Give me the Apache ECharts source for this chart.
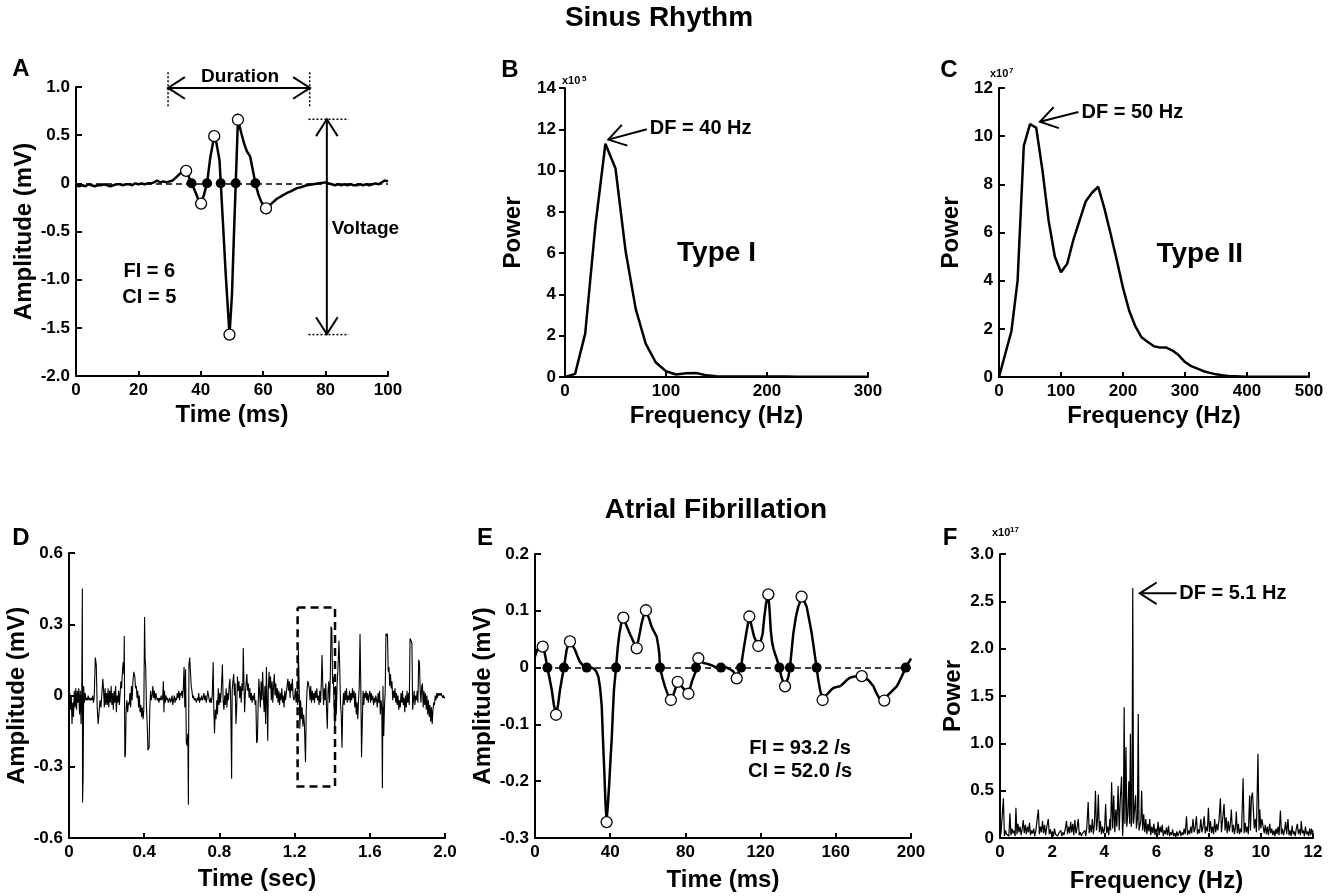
<!DOCTYPE html>
<html>
<head>
<meta charset="utf-8">
<title>Sinus Rhythm / Atrial Fibrillation</title>
<script src="https://cdn.jsdelivr.net/npm/echarts@6/dist/echarts.min.js"></script>
<style>
    html, body { margin: 0; padding: 0; background: #fff; }
    #chart { width: 1338px; height: 896px; }
</style>
</head>
<body>
<div id="chart"></div>
<script>
// ---------- data ----------

// A: sinus rhythm electrogram [ms, mV]
const sinusEgm = [
    [0,-0.02],[1,-0.03],[2,-0.02],[3,-0.03],[4,-0.01],[5,-0.02],[6,-0.03],[7,-0.02],[8,-0.02],[9,-0.01],
    [10,-0.02],[11,-0.03],[12,-0.02],[13,-0.01],[14,-0.01],[15,-0.02],[16,-0.01],[17,-0.01],[18,-0.02],[19,0.00],
    [20,-0.01],[21,0.00],[22,-0.01],[23,0.00],[24,0.00],[25,0.01],[26,0.03],[27,0.01],[28,0.02],[29,0.01],
    [30,0.02],[31,0.03],[32,0.06],[33,0.09],[34,0.12],[35.3,0.13],[36,0.08],[37,0.00],[38,-0.07],[39,-0.15],
    [40.1,-0.21],[41,-0.12],[42,0.00],[43,0.26],[44.3,0.49],[45,0.42],[46,0.24],[46.4,0.00],[47,-0.35],[48,-0.95],
    [49.2,-1.57],[50,-1.15],[50.6,-0.55],[51.2,0.00],[51.9,0.66],[53,0.52],[54,0.40],[54.8,0.33],[55.8,0.28],[56.6,0.15],
    [57.5,0.00],[58.5,-0.12],[59.5,-0.20],[60.9,-0.26],[62,-0.23],[63,-0.20],[64.4,-0.16],[66,-0.13],[67.6,-0.10],[69,-0.08],
    [70.8,-0.05],[72,-0.04],[74,-0.02],[76,-0.01],[78,0.00],[80,0.01],[81,0.00],[82,-0.01],[83,-0.02],[84,-0.01],
    [85,-0.02],[86,-0.01],[87,-0.02],[88,-0.01],[89,-0.02],[90,-0.02],[91,-0.01],[92,-0.02],[93,-0.01],[94,-0.02],
    [95,-0.01],[96,0.00],[97,-0.01],[98,0.01],[99,0.03],[100,0.02]
];
const sinusPeaks = [[35.3,0.13],[40.1,-0.21],[44.3,0.49],[49.2,-1.57],[51.9,0.66],[60.9,-0.26]];
const sinusCrossings = [37.0, 42.0, 46.4, 51.2, 57.5];

// B: Type I spectrum (power x10^5)
const typeIFreq  = [0,10,20,30,40,50,60,70,80,90,100,110,120,130,140,150,160,170,180,190,200,210,220,230,240,250,260,270,280,290,300];
const typeIPower = [0,0.15,2.1,7.3,11.3,10.1,6.1,3.3,1.6,0.7,0.28,0.12,0.18,0.19,0.08,0.04,0.03,0.02,0.02,0.02,0.02,0.02,0.02,0.01,0.01,0.01,0.01,0.01,0.01,0.01,0.01];

// C: Type II spectrum (power x10^7)
const typeIIFreq  = [0,20,30,40,50,60,70,80,90,100,110,120,130,140,150,160,170,180,190,200,210,220,230,240,250,260,270,280,290,300,
                     310,320,330,340,350,360,370,380,390,400,420,440,460,480,500];
const typeIIPower = [0,1.9,4.0,9.6,10.5,10.35,8.6,6.5,5.0,4.35,4.7,5.7,6.5,7.3,7.65,7.9,7.0,5.95,4.85,3.7,
                     2.75,2.1,1.65,1.45,1.28,1.22,1.22,1.1,0.9,0.62,0.45,0.35,0.24,0.17,0.11,0.07,0.04,0.03,0.02,0.01,
                     0.01,0.01,0.01,0.01,0.01];

// D: atrial fibrillation electrogram [sec, mV]
const afEgm = [
    [0.000,-0.02],[0.004,0.01],[0.008,-0.06],[0.012,0.00],[0.016,-0.12],[0.020,-0.03],[0.024,-0.09],[0.028,0.02],[0.032,-0.05],[0.036,0.03],[0.040,-0.06],[0.044,0.02],[0.048,-0.03],[0.052,0.03],[0.056,-0.08],[0.060,0.02],[0.064,-0.12],[0.068,0.03],[0.071,0.45],[0.072,-0.45],[0.075,-0.35],[0.078,0.04],[0.082,-0.03],[0.086,0.01],[0.090,-0.02],[0.094,-0.01],[0.098,-0.02],
    [0.102,0.00],[0.106,-0.02],[0.110,-0.01],[0.114,-0.02],[0.118,-0.01],[0.122,-0.02],[0.126,0.00],[0.130,-0.03],[0.134,-0.01],[0.140,0.16],[0.145,0.13],[0.150,-0.05],[0.155,-0.12],[0.160,-0.07],[0.165,-0.02],[0.170,-0.05],[0.175,0.01],[0.180,0.07],[0.184,0.02],[0.188,-0.05],[0.192,0.03],[0.196,-0.04],[0.200,0.01],
    [0.204,-0.04],[0.208,0.03],[0.212,-0.05],[0.216,0.02],[0.220,-0.03],[0.224,0.04],[0.228,-0.04],[0.232,0.01],[0.236,-0.06],[0.240,0.02],[0.244,-0.03],[0.248,0.04],[0.252,-0.07],[0.256,0.00],[0.260,-0.03],[0.264,0.02],[0.268,-0.04],[0.272,0.01],[0.276,0.06],[0.280,0.03],[0.284,0.10],[0.288,0.14],[0.292,0.09],[0.294,0.25],[0.297,-0.26],[0.300,-0.25],
    [0.304,-0.06],[0.308,-0.02],[0.312,-0.07],[0.316,-0.03],[0.320,-0.04],[0.324,0.01],[0.328,-0.05],[0.332,0.04],[0.336,-0.02],[0.340,0.06],[0.345,0.10],[0.350,0.08],[0.354,0.03],[0.358,0.04],[0.362,-0.01],[0.366,0.02],[0.370,-0.05],[0.374,0.00],[0.378,-0.07],[0.382,-0.04],[0.386,-0.09],[0.390,-0.05],[0.394,-0.10],[0.398,-0.06],
    [0.402,0.33],[0.405,0.15],[0.408,0.12],[0.412,-0.05],[0.416,-0.12],[0.420,-0.23],[0.426,-0.22],[0.430,-0.05],[0.434,0.02],[0.438,-0.02],[0.442,0.00],[0.446,0.04],[0.450,-0.01],[0.454,0.02],[0.458,-0.02],[0.462,0.01],[0.466,-0.01],[0.470,-0.02],[0.474,-0.01],[0.478,-0.03],[0.482,-0.01],[0.486,-0.02],[0.490,0.00],[0.494,-0.02],[0.498,-0.01],
    [0.502,0.06],[0.505,-0.07],[0.508,0.02],[0.512,-0.03],[0.516,0.00],[0.520,-0.02],[0.524,-0.01],[0.528,-0.03],[0.532,-0.02],[0.536,-0.01],[0.540,-0.03],[0.544,-0.02],[0.548,0.00],[0.552,-0.04],[0.556,-0.02],[0.560,0.00],[0.564,-0.03],[0.568,-0.01],[0.572,-0.02],[0.576,0.01],[0.580,-0.01],[0.584,0.02],[0.588,-0.02],[0.592,0.01],[0.596,0.00],
    [0.600,0.02],[0.604,-0.01],[0.608,0.03],[0.612,0.12],[0.616,-0.05],[0.620,0.11],[0.624,-0.20],[0.628,-0.21],[0.632,-0.16],[0.635,-0.46],[0.638,0.13],[0.642,0.16],[0.646,0.10],[0.650,0.04],[0.654,0.02],[0.658,-0.01],[0.662,0.00],[0.666,-0.02],[0.670,-0.01],[0.674,-0.02],[0.678,-0.03],[0.682,-0.01],[0.686,-0.02],[0.690,0.01],[0.694,-0.03],[0.698,-0.01],
    [0.702,-0.02],[0.706,0.00],[0.710,-0.02],[0.714,-0.01],[0.718,0.01],[0.722,-0.02],[0.726,0.00],[0.730,-0.03],[0.734,-0.01],[0.738,0.02],[0.742,0.00],[0.746,-0.02],[0.750,-0.03],[0.754,-0.01],[0.758,-0.03],[0.762,0.00],[0.767,0.14],[0.770,-0.05],[0.774,-0.16],[0.778,-0.06],[0.782,-0.10],[0.786,-0.02],[0.790,-0.08],[0.794,0.03],[0.798,-0.04],
    [0.802,0.01],[0.806,-0.03],[0.810,0.02],[0.816,0.13],[0.820,-0.02],[0.824,-0.06],[0.828,0.00],[0.832,-0.04],[0.836,0.03],[0.840,-0.05],[0.844,0.01],[0.848,-0.02],[0.852,0.04],[0.856,0.07],[0.860,-0.02],[0.865,-0.35],[0.868,0.02],[0.872,0.06],[0.876,0.09],[0.880,0.00],[0.884,0.05],[0.888,-0.12],[0.892,-0.05],[0.896,0.08],[0.900,0.02],
    [0.904,0.06],[0.908,-0.01],[0.912,0.04],[0.916,-0.03],[0.920,0.05],[0.924,0.02],[0.927,0.20],[0.930,0.08],[0.934,-0.07],[0.938,0.01],[0.942,0.05],[0.946,0.09],[0.950,0.02],[0.954,0.05],[0.958,-0.01],[0.962,0.03],[0.966,-0.02],[0.970,0.01],[0.974,-0.03],[0.978,0.00],[0.982,-0.02],[0.986,0.01],[0.990,-0.04],[0.994,-0.02],[0.998,-0.20],
    [1.002,-0.19],[1.006,-0.04],[1.010,0.07],[1.014,0.01],[1.018,-0.05],[1.022,0.06],[1.026,-0.02],[1.030,0.10],[1.034,0.00],[1.038,-0.07],[1.042,0.04],[1.046,-0.12],[1.050,0.12],[1.054,-0.05],[1.057,-0.19],[1.060,0.02],[1.064,0.10],[1.068,0.03],[1.072,0.08],[1.076,-0.02],[1.080,0.06],[1.084,-0.03],[1.088,0.04],[1.092,0.09],[1.096,0.00],[1.100,0.05],
    [1.104,-0.01],[1.108,0.03],[1.112,-0.03],[1.116,0.02],[1.120,-0.04],[1.124,0.01],[1.128,-0.02],[1.132,0.03],[1.136,-0.03],[1.140,0.00],[1.144,-0.05],[1.148,0.02],[1.152,-0.02],[1.156,0.01],[1.160,0.04],[1.164,0.07],[1.168,0.02],[1.172,0.06],[1.176,-0.01],[1.180,0.05],[1.184,0.02],[1.188,0.07],[1.192,0.00],[1.196,-0.02],[1.200,-0.01],
    [1.204,0.03],[1.208,-0.03],[1.212,0.02],[1.216,-0.04],[1.220,0.19],[1.224,0.05],[1.228,-0.14],[1.232,-0.02],[1.236,-0.10],[1.240,-0.05],[1.244,-0.13],[1.248,-0.08],[1.252,-0.12],[1.258,-0.28],[1.262,-0.06],[1.266,0.02],[1.270,0.06],[1.274,0.05],[1.278,0.03],[1.282,-0.02],[1.286,0.04],[1.290,-0.03],[1.294,0.02],[1.298,-0.02],
    [1.302,0.01],[1.306,-0.03],[1.310,0.02],[1.314,-0.01],[1.318,0.03],[1.322,-0.02],[1.326,0.00],[1.330,-0.04],[1.334,0.02],[1.338,-0.03],[1.342,0.05],[1.346,0.17],[1.350,0.04],[1.354,-0.04],[1.358,0.03],[1.362,-0.02],[1.366,0.05],[1.370,-0.06],[1.374,-0.14],[1.378,0.02],[1.382,0.06],[1.386,-0.03],[1.390,0.08],[1.394,0.29],[1.398,0.28],[1.402,0.05],[1.406,0.08],
    [1.410,-0.05],[1.414,-0.14],[1.418,0.04],[1.422,-0.08],[1.426,0.05],[1.430,0.10],[1.436,0.23],[1.440,0.12],[1.444,-0.03],[1.448,-0.08],[1.452,-0.22],[1.456,-0.05],[1.460,0.01],[1.464,-0.04],[1.468,0.02],[1.472,-0.02],[1.476,0.03],[1.480,-0.03],[1.484,0.00],[1.488,-0.02],[1.492,0.02],[1.496,-0.03],[1.500,0.01],
    [1.504,-0.02],[1.508,0.03],[1.512,-0.01],[1.516,0.02],[1.520,-0.05],[1.524,0.01],[1.528,-0.08],[1.532,-0.03],[1.536,-0.10],[1.540,-0.02],[1.544,0.04],[1.548,0.26],[1.552,0.05],[1.556,-0.26],[1.560,-0.12],[1.564,0.02],[1.568,-0.04],[1.572,0.01],[1.576,-0.01],[1.580,0.02],[1.584,-0.02],[1.588,0.01],[1.592,-0.03],[1.596,0.00],
    [1.600,0.02],[1.604,-0.03],[1.608,0.01],[1.612,-0.02],[1.616,0.00],[1.620,-0.04],[1.624,-0.01],[1.628,-0.03],[1.632,0.00],[1.636,-0.02],[1.640,-0.05],[1.644,0.01],[1.648,-0.03],[1.652,0.02],[1.656,-0.08],[1.660,-0.02],[1.664,-0.06],[1.667,-0.39],[1.670,0.04],[1.674,-0.17],[1.678,-0.05],[1.682,0.02],[1.686,0.26],[1.690,0.25],[1.694,0.26],[1.698,0.10],[1.702,0.12],[1.706,0.04],[1.710,0.09],[1.714,0.03],[1.718,0.06],[1.722,-0.02],
    [1.726,0.02],[1.730,-0.01],[1.734,0.03],[1.738,-0.03],[1.742,0.01],[1.746,-0.04],[1.750,0.00],[1.754,-0.06],[1.758,-0.02],[1.762,-0.05],[1.766,0.01],[1.770,-0.03],[1.774,0.02],[1.778,-0.04],[1.782,-0.01],[1.786,-0.07],[1.790,0.00],[1.794,-0.05],[1.798,0.02],
    [1.802,-0.03],[1.806,0.01],[1.810,-0.04],[1.814,0.24],[1.820,0.23],[1.824,0.22],[1.828,-0.06],[1.832,-0.02],[1.836,0.02],[1.840,-0.04],[1.844,0.00],[1.848,-0.02],[1.852,0.02],[1.856,-0.03],[1.860,0.15],[1.864,0.14],[1.868,0.02],[1.872,-0.03],[1.876,0.04],[1.880,0.05],[1.884,-0.05],[1.888,0.02],[1.892,-0.04],[1.896,0.01],[1.900,-0.06],
    [1.904,0.00],[1.908,-0.08],[1.912,-0.02],[1.916,-0.09],[1.920,-0.04],[1.924,-0.11],[1.928,-0.05],[1.932,-0.12],[1.936,-0.06],[1.940,-0.03],[1.944,-0.04],[1.948,0.00],[1.952,-0.02],[1.956,0.01],[1.960,-0.01],[1.964,0.01],[1.968,0.00],[1.972,0.01],[1.976,0.00],[1.980,0.01],[1.984,0.00],[1.988,-0.01],[1.992,0.00],[1.996,-0.01],[2.000,-0.01]
];

// E: 200 ms AF segment [ms, mV]
const afSegment = [
    [0,0.02],[1,0.03],[2,0.035],[3.5,0.043],[4.5,0.035],[5.5,0.02],[6.6,0],[7.8,-0.02],[8.9,-0.039],[10,-0.065],
    [11.2,-0.082],[12.3,-0.065],[13.3,-0.039],[14.4,-0.018],[15.4,0],[16.8,0.031],[17.8,0.042],[18.6,0.046],[19.8,0.04],[21.3,0.031],
    [22.6,0.02],[23.9,0.01],[25.5,0.004],[27.5,0],[29,0],[31,-0.001],[32.5,-0.006],[33.7,-0.016],[34.6,-0.035],[35.5,-0.068],
    [36.2,-0.13],[36.9,-0.186],[37.5,-0.24],[38.1,-0.27],[38.8,-0.24],[39.5,-0.203],[40.1,-0.165],[40.8,-0.127],[41.4,-0.08],[42,-0.039],
    [43.1,0],[44,0.035],[44.9,0.06],[46,0.08],[47,0.087],[48.3,0.077],[49.6,0.066],[50.8,0.057],[51.9,0.049],[53,0.041],
    [54.1,0.034],[55.4,0.055],[56.7,0.078],[58,0.094],[59,0.1],[60.5,0.088],[62,0.072],[63.4,0.063],[64.7,0.055],[65.5,0.04],
    [66.1,0.025],[66.5,0],[67.8,-0.018],[69.1,-0.033],[70.7,-0.048],[72.3,-0.057],[73.4,-0.05],[74.5,-0.039],[75.9,-0.025],[77,-0.029],
    [78,-0.033],[79.8,-0.04],[81.6,-0.046],[82.6,-0.035],[83.7,-0.022],[85.6,-0.006],[86.2,0.005],[86.9,0.0165],[88.2,0.011],[89.5,0.008],
    [91.3,0.007],[93.1,0.005],[94.7,0.003],[96.3,0],[98.9,-0.001],[100.5,0.001],[102,0],[103.8,-0.003],[105.5,-0.007],[106.5,-0.012],
    [107.3,-0.019],[108.5,-0.007],[109.6,0],[110.4,0.02],[111.2,0.037],[112.6,0.065],[114,0.09],[115.3,0.072],[116.5,0.055],[117.7,0.045],
    [118.8,0.038],[120,0.045],[121.1,0.06],[122,0.09],[122.9,0.113],[124.1,0.129],[124.8,0.1],[125.4,0.066],[126.1,0.045],[126.8,0.034],
    [127.6,0.025],[128.5,0.0165],[130,0],[131,-0.015],[132.1,-0.027],[133,-0.033],[134,-0.024],[134.8,-0.016],[135.6,0],[136.5,0.03],
    [137.4,0.06],[138.7,0.088],[140,0.107],[141.8,0.123],[143.2,0.117],[144.5,0.107],[145.8,0.085],[147.2,0.06],[148.5,0.03],[149.8,0],
    [150.7,-0.022],[151.6,-0.039],[153,-0.057],[154.5,-0.05],[156,-0.045],[157.3,-0.04],[158.7,-0.036],[160.5,-0.034],[162.2,-0.033],[164,-0.028],
    [165.8,-0.022],[167.5,-0.018],[169.3,-0.016],[171.5,-0.015],[173.8,-0.015],[175.5,-0.018],[177.3,-0.022],[178.6,-0.027],[180,-0.033],[181.6,-0.045],
    [183.2,-0.054],[185.8,-0.057],[187.3,-0.05],[188.8,-0.045],[190.6,-0.039],[192.4,-0.033],[193.7,-0.025],[195,-0.016],[196.1,-0.008],[197.2,0],
    [198.2,0.006],[199.1,0.0107],[200,0.016]
];
const afPeaks = [[4.1,0.037],[11.2,-0.083],[18.6,0.046],[38.1,-0.272],[47,0.088],[54.1,0.034],[59,0.101],[72.3,-0.057],[75.9,-0.025],[81.6,-0.046],
                 [86.9,0.0165],[107.3,-0.019],[114,0.09],[118.8,0.038],[124.1,0.129],[133,-0.033],[141.8,0.125],[153,-0.057],[173.8,-0.015],[185.8,-0.058]];
const afCrossings = [6.6, 15.4, 27.5, 43.1, 66.5, 85.6, 98.9, 109.6, 130, 135.6, 149.8, 197.2];

// F: AF spectrum [Hz, power x10^17]
const afSpectrum = [
    [0.00,0.02],[0.04,0.05],[0.08,0.03],[0.13,0.42],[0.17,0.02],[0.21,0.08],[0.25,0.04],[0.30,0.06],[0.34,0.02],[0.38,0.26],[0.42,0.03],[0.46,0.10],[0.50,0.05],[0.54,0.08],[0.58,0.02],[0.61,0.32],[0.65,0.04],[0.69,0.15],[0.73,0.06],[0.77,0.12],[0.81,0.03],[0.85,0.09],[0.89,0.19],[0.93,0.05],[0.97,0.14],
    [1.01,0.04],[1.05,0.12],[1.09,0.06],[1.13,0.16],[1.17,0.03],[1.21,0.08],[1.25,0.05],[1.29,0.10],[1.33,0.02],[1.37,0.07],[1.41,0.09],[1.47,0.30],[1.51,0.04],[1.55,0.12],[1.59,0.06],[1.63,0.18],[1.67,0.05],[1.71,0.14],[1.75,0.03],[1.79,0.11],[1.85,0.20],[1.89,0.04],[1.93,0.09],[1.97,0.03],
    [2.01,0.07],[2.05,0.02],[2.09,0.10],[2.13,0.04],[2.17,0.06],[2.21,0.02],[2.25,0.05],[2.29,0.03],[2.33,0.08],[2.37,0.02],[2.41,0.06],[2.45,0.03],[2.50,0.09],[2.55,0.18],[2.59,0.04],[2.63,0.12],[2.67,0.05],[2.71,0.17],[2.75,0.06],[2.79,0.15],[2.83,0.03],[2.87,0.19],[2.91,0.05],[2.95,0.10],[3.00,0.20],
    [3.04,0.03],[3.08,0.06],[3.12,0.02],[3.16,0.05],[3.20,0.03],[3.25,0.08],[3.29,0.02],[3.33,0.12],[3.38,0.38],[3.42,0.05],[3.46,0.14],[3.50,0.06],[3.54,0.20],[3.58,0.04],[3.62,0.15],[3.66,0.50],[3.70,0.08],[3.74,0.20],[3.77,0.46],[3.81,0.06],[3.85,0.18],[3.89,0.04],[3.93,0.12],[3.97,0.05],
    [4.01,0.10],[4.05,0.36],[4.09,0.05],[4.13,0.12],[4.17,0.03],[4.21,0.20],[4.24,0.08],[4.28,0.59],[4.32,0.10],[4.36,0.45],[4.40,0.06],[4.44,0.30],[4.48,0.12],[4.53,0.55],[4.57,0.08],[4.61,0.40],[4.66,0.65],[4.70,0.02],[4.73,0.20],[4.76,1.38],[4.79,0.15],[4.83,0.96],[4.86,0.12],[4.90,0.25],[4.94,0.60],[4.97,0.15],[5.00,1.10],[5.03,0.12],
    [5.06,0.20],[5.09,2.64],[5.12,0.15],[5.16,0.30],[5.20,0.45],[5.23,0.10],[5.27,0.20],[5.30,1.31],[5.33,0.08],[5.36,0.10],[5.40,0.18],[5.43,0.50],[5.47,0.08],[5.51,0.25],[5.55,0.06],[5.59,0.20],[5.63,0.04],[5.67,0.15],[5.71,0.07],[5.74,0.20],[5.78,0.03],[5.82,0.12],[5.86,0.05],[5.90,0.15],[5.94,0.03],[5.98,0.10],
    [6.02,0.05],[6.06,0.17],[6.10,0.03],[6.14,0.12],[6.18,0.06],[6.22,0.14],[6.26,0.02],[6.30,0.08],[6.34,0.04],[6.38,0.11],[6.42,0.03],[6.46,0.13],[6.50,0.02],[6.54,0.06],[6.58,0.03],[6.62,0.09],[6.66,0.02],[6.70,0.05],[6.74,0.01],[6.78,0.07],[6.82,0.02],[6.86,0.04],[6.90,0.08],[6.94,0.02],[6.98,0.06],
    [7.02,0.03],[7.06,0.10],[7.10,0.04],[7.15,0.23],[7.19,0.03],[7.23,0.08],[7.27,0.04],[7.31,0.12],[7.35,0.05],[7.40,0.20],[7.44,0.06],[7.48,0.10],[7.53,0.23],[7.57,0.04],[7.61,0.09],[7.65,0.05],[7.70,0.20],[7.74,0.06],[7.78,0.11],[7.83,0.23],[7.87,0.05],[7.91,0.12],[7.95,0.07],[7.99,0.32],
    [8.03,0.06],[8.07,0.18],[8.11,0.05],[8.15,0.12],[8.19,0.04],[8.23,0.20],[8.27,0.06],[8.31,0.15],[8.35,0.08],[8.40,0.20],[8.45,0.42],[8.49,0.06],[8.53,0.18],[8.59,0.36],[8.63,0.08],[8.67,0.22],[8.71,0.05],[8.75,0.18],[8.79,0.07],[8.83,0.15],[8.87,0.30],[8.91,0.06],[8.95,0.14],[8.99,0.04],
    [9.03,0.12],[9.06,0.28],[9.10,0.05],[9.14,0.15],[9.18,0.04],[9.22,0.10],[9.26,0.06],[9.32,0.63],[9.36,0.05],[9.40,0.16],[9.44,0.06],[9.48,0.12],[9.52,0.04],[9.57,0.45],[9.60,0.08],[9.64,0.43],[9.68,0.48],[9.71,0.47],[9.75,0.10],[9.79,0.20],[9.83,0.06],[9.89,0.89],[9.93,0.08],[9.96,0.30],
    [10.00,0.10],[10.04,0.20],[10.09,0.22],[10.13,0.05],[10.17,0.14],[10.21,0.04],[10.25,0.12],[10.29,0.03],[10.34,0.15],[10.38,0.05],[10.42,0.10],[10.46,0.03],[10.50,0.08],[10.54,0.02],[10.58,0.10],[10.62,0.04],[10.66,0.12],[10.70,0.03],[10.75,0.29],[10.79,0.04],[10.83,0.10],[10.87,0.03],[10.91,0.08],[10.95,0.17],[10.99,0.04],
    [11.04,0.20],[11.08,0.03],[11.12,0.08],[11.16,0.02],[11.20,0.13],[11.24,0.04],[11.28,0.07],[11.32,0.02],[11.36,0.10],[11.40,0.15],[11.44,0.04],[11.48,0.09],[11.52,0.03],[11.55,0.18],[11.59,0.05],[11.63,0.08],[11.67,0.02],[11.71,0.12],[11.75,0.04],[11.79,0.07],[11.83,0.02],[11.87,0.10],[11.91,0.03],[11.94,0.10],[11.98,0.04],[12.00,0.08]
];

// ---------- style helpers ----------
const FONT = '"Liberation Sans", Arial, Helvetica, sans-serif';
const INK = '#000';

function fmt1(v) {
    return Math.abs(v) < 1e-9 ? '0' : v.toFixed(1);
}

function xAxisCfg(grid, min, max, interval, name, nameGap, fmt) {
    return {
        type: 'value', gridIndex: grid, min, max, interval,
        name, nameLocation: 'middle', nameGap,
        nameTextStyle: { color: INK, fontSize: 24, fontWeight: 'bold', fontFamily: FONT },
        splitLine: { show: false },
        axisLine: { show: true, onZero: false, lineStyle: { color: INK, width: 2 } },
        axisTick: { show: true, inside: true, length: 5, lineStyle: { color: INK, width: 2 } },
        axisLabel: { color: INK, fontSize: 17, fontWeight: 'bold', fontFamily: FONT, margin: 6,
                     showMinLabel: true, showMaxLabel: true, formatter: fmt || (v => String(v)) }
    };
}

function yAxisCfg(grid, min, max, interval, name, nameGap, fmt, tickInside) {
    return {
        type: 'value', gridIndex: grid, min, max, interval,
        name, nameLocation: 'middle', nameGap,
        nameTextStyle: { color: INK, fontSize: 24, fontWeight: 'bold', fontFamily: FONT },
        splitLine: { show: false },
        axisLine: { show: true, onZero: false, lineStyle: { color: INK, width: 2 } },
        axisTick: { show: true, inside: tickInside !== false, length: 6, lineStyle: { color: INK, width: 2 } },
        axisLabel: { color: INK, fontSize: 17, fontWeight: 'bold', fontFamily: FONT, margin: tickInside === false ? 9 : 6,
                     showMinLabel: true, showMaxLabel: true, formatter: fmt || (v => String(v)) }
    };
}

function traceSeries(grid, data, width) {
    return {
        type: 'line', xAxisIndex: grid, yAxisIndex: grid, data,
        symbol: 'none', smooth: false, sampling: null, z: 3, silent: true,
        lineStyle: { color: INK, width: width, opacity: 1 }
    };
}

function zeroLine(grid) {
    return {
        type: 'line', xAxisIndex: grid, yAxisIndex: grid, data: [], z: 2,
        markLine: {
            silent: true, symbol: 'none', label: { show: false },
            lineStyle: { color: INK, width: 1.5, type: [6, 4], opacity: 1 },
            data: [{ yAxis: 0 }]
        }
    };
}

function dotSeries(grid, pts, open) {
    return {
        type: 'scatter', xAxisIndex: grid, yAxisIndex: grid, data: pts, z: 4,
        symbol: 'circle', symbolSize: open ? 11 : 10,
        itemStyle: open ? { color: '#fff', borderColor: INK, borderWidth: 1.3, opacity: 1 }
                        : { color: INK, opacity: 1 },
        emphasis: { disabled: true },
        silent: true
    };
}

// open-headed arrows, drawn in pixel space from data anchors
function arrowSeries(grid, arrows) {
    return {
        type: 'custom', xAxisIndex: grid, yAxisIndex: grid, silent: true, z: 6,
        data: arrows.map(a => a.from),
        renderItem: (params, api) => {
            const a = arrows[params.dataIndex];
            const p1 = api.coord(a.from), p2 = api.coord(a.to);
            const kids = [{ type: 'line', shape: { x1: p1[0], y1: p1[1], x2: p2[0], y2: p2[1] },
                            style: { stroke: INK, lineWidth: 2 } }];
            const heads = a.both ? [[p2, p1], [p1, p2]] : [[p2, p1]];
            heads.forEach(([tip, tail]) => {
                const ang = Math.atan2(tail[1] - tip[1], tail[0] - tip[0]);
                const L = 20, s = 0.57;
                kids.push({ type: 'polyline', shape: { points: [
                    [tip[0] + L * Math.cos(ang + s), tip[1] + L * Math.sin(ang + s)],
                    [tip[0], tip[1]],
                    [tip[0] + L * Math.cos(ang - s), tip[1] + L * Math.sin(ang - s)]
                ] }, style: { stroke: INK, lineWidth: 2, fill: 'none' } });
            });
            return { type: 'group', children: kids };
        }
    };
}

// plain (dotted / dashed) paths in data coordinates
function pathSeries(grid, paths, dash, width) {
    return {
        type: 'custom', xAxisIndex: grid, yAxisIndex: grid, silent: true, z: 5,
        data: paths.map(p => p[0]),
        renderItem: (params, api) => {
            const pts = paths[params.dataIndex].map(p => api.coord(p));
            return { type: 'polyline', shape: { points: pts },
                     style: { stroke: INK, lineWidth: width, lineDash: dash, fill: 'none' } };
        }
    };
}

// text anchored to data coordinates
function textSeries(grid, items) {
    return {
        type: 'custom', xAxisIndex: grid, yAxisIndex: grid, silent: true, z: 7,
        data: items.map(t => [t.x, t.y]),
        renderItem: (params, api) => {
            const t = items[params.dataIndex];
            const p = api.coord([t.x, t.y]);
            return { type: 'text', x: p[0] + (t.dx || 0), y: p[1] + (t.dy || 0),
                     style: { text: t.text, font: 'bold ' + t.size + 'px ' + FONT, fill: INK,
                              textAlign: t.align || 'center', align: t.align || 'center',
                              textVerticalAlign: 'middle', verticalAlign: 'middle' } };
        }
    };
}

function label(x, y, text, size) {
    return { type: 'text', x, y, silent: true,
             style: { text, font: 'bold ' + size + 'px ' + FONT, fill: INK,
                      textAlign: 'center', align: 'center', textVerticalAlign: 'middle', verticalAlign: 'middle' } };
}

// ---------- chart ----------
const chart = echarts.init(document.getElementById('chart'), null, { renderer: 'canvas' });

const grids = [
    { left: 76,  top: 87,  width: 312, height: 289 },  // A
    { left: 565, top: 88,  width: 303, height: 289 },  // B
    { left: 999, top: 88,  width: 310, height: 289 },  // C
    { left: 69,  top: 553, width: 376, height: 285 },  // D
    { left: 535, top: 554, width: 376, height: 284 },  // E
    { left: 1000, top: 554, width: 313, height: 284 }  // F
].map(g => Object.assign({ containLabel: false, outerBoundsMode: 'none' }, g));

const option = {
    backgroundColor: '#fff',
    animation: false,
    textStyle: { fontFamily: FONT },
    grid: grids,
    xAxis: [
        xAxisCfg(0, 0, 100, 20, 'Time (ms)', 27),
        xAxisCfg(1, 0, 300, 100, 'Frequency (Hz)', 27),
        xAxisCfg(2, 0, 500, 100, 'Frequency (Hz)', 27),
        xAxisCfg(3, 0, 2.0, 0.4, 'Time (sec)', 29, fmt1),
        xAxisCfg(4, 0, 200, 40, 'Time (ms)', 30),
        xAxisCfg(5, 0, 12, 2, 'Frequency (Hz)', 31)
    ],
    yAxis: [
        yAxisCfg(0, -2, 1, 0.5, 'Amplitude (mV)', 39, fmt1),
        yAxisCfg(1, 0, 14, 2, 'Power', 40, null, false),
        yAxisCfg(2, 0, 12, 2, 'Power', 36),
        yAxisCfg(3, -0.6, 0.6, 0.3, 'Amplitude (mV)', 36, fmt1),
        yAxisCfg(4, -0.3, 0.2, 0.1, 'Amplitude (mV)', 32, fmt1),
        yAxisCfg(5, 0, 3, 0.5, 'Power', 35, fmt1)
    ],
    graphic: [
        label(659, 18, 'Sinus Rhythm', 28),
        label(716, 510, 'Atrial Fibrillation', 28),
        label(21, 69, 'A', 24),
        label(510, 70, 'B', 24),
        label(949, 70, 'C', 24),
        label(21, 538, 'D', 24),
        label(485, 538, 'E', 24),
        label(950, 538, 'F', 24)
    ],
    series: [
        // A
        zeroLine(0),
        traceSeries(0, sinusEgm, 2.5),
        dotSeries(0, sinusPeaks, true),
        dotSeries(0, sinusCrossings.map(x => [x, 0]), false),
        arrowSeries(0, [
            { from: [29.5, 0.99], to: [75, 0.99], both: true },
            { from: [80.4, 0.665], to: [80.4, -1.565], both: true }
        ]),
        pathSeries(0, [
            [[29.5, 0.80], [29.5, 1.16]], [[74.9, 0.80], [74.9, 1.16]],
            [[74.5, 0.665], [87.4, 0.665]], [[74.5, -1.57], [87.4, -1.57]]
        ], [2, 2], 1.5),
        textSeries(0, [
            { x: 52.6, y: 1.11, text: 'Duration', size: 19 },
            { x: 82, y: -0.47, text: 'Voltage', size: 19, align: 'left' },
            { x: 23.5, y: -0.92, text: 'FI = 6', size: 20 },
            { x: 23.5, y: -1.18, text: 'CI = 5', size: 20 }
        ]),
        // B
        traceSeries(1, typeIFreq.map((f, i) => [f, typeIPower[i]]), 2.5),
        arrowSeries(1, [{ from: [81, 12.0], to: [42.9, 11.5] }]),
        textSeries(1, [
            { x: 84, y: 12.03, text: 'DF = 40 Hz', size: 20, align: 'left' },
            { x: 150, y: 5.97, text: 'Type I', size: 28 },
            { x: 0, y: 14, dx: -3, dy: -7, text: 'x10', size: 11, align: 'left' },
            { x: 0, y: 14, dx: 17, dy: -9, text: '5', size: 8, align: 'left' }
        ]),
        // C
        traceSeries(2, typeIIFreq.map((f, i) => [f, typeIIPower[i]]), 2.5),
        arrowSeries(2, [{ from: [128, 11.0], to: [66, 10.6] }]),
        textSeries(2, [
            { x: 133, y: 10.99, text: 'DF = 50 Hz', size: 20, align: 'left' },
            { x: 323.8, y: 5.1, text: 'Type II', size: 28 },
            { x: 0, y: 12, dx: -9, dy: -14, text: 'x10', size: 11, align: 'left' },
            { x: 0, y: 12, dx: 10, dy: -17, text: '7', size: 8, align: 'left' }
        ]),
        // D
        traceSeries(3, afEgm, 1.1),
        pathSeries(3, [[[1.216, 0.371], [1.415, 0.371], [1.415, -0.383], [1.216, -0.383], [1.216, 0.371]]], [8, 5], 2.5),
        // E
        zeroLine(4),
        traceSeries(4, afSegment, 2.5),
        dotSeries(4, afPeaks, true),
        dotSeries(4, afCrossings.map(x => [x, 0]), false),
        textSeries(4, [
            { x: 141, y: -0.142, text: 'FI = 93.2 /s', size: 20 },
            { x: 141, y: -0.183, text: 'CI = 52.0 /s', size: 20 }
        ]),
        // F
        traceSeries(5, afSpectrum, 1.2),
        arrowSeries(5, [{ from: [6.77, 2.585], to: [5.36, 2.585] }]),
        textSeries(5, [
            { x: 6.87, y: 2.585, text: 'DF = 5.1 Hz', size: 20, align: 'left' },
            { x: 0, y: 3, dx: -8, dy: -21, text: 'x10', size: 11, align: 'left' },
            { x: 0, y: 3, dx: 10, dy: -24, text: '17', size: 8, align: 'left' }
        ])
    ]
};

chart.setOption(option);
window.addEventListener('resize', () => chart.resize());
</script>
</body>
</html>
